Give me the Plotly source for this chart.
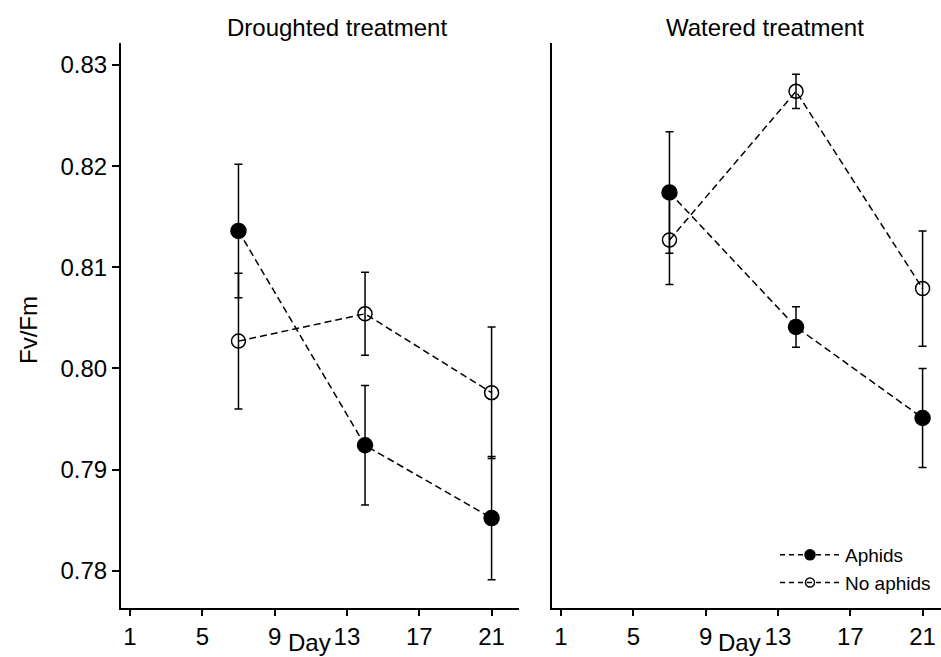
import plotly.graph_objects as go

# Fv/Fm by day, mean and error, for each treatment and aphid group
days = [7, 14, 21]

drought_aphids = [0.8136, 0.7924, 0.7852]
drought_aphids_err = [0.0066, 0.0059, 0.0061]
drought_none = [0.8027, 0.8054, 0.7976]
drought_none_err = [0.0067, 0.0041, 0.0065]

water_aphids = [0.8174, 0.8041, 0.7951]
water_aphids_err = [0.0060, 0.0020, 0.0049]
water_none = [0.8127, 0.8274, 0.8079]
water_none_err = [0.0044, 0.0017, 0.0057]

x_ticks = [1, 5, 9, 13, 17, 21]
y_ticks = [0.78, 0.79, 0.80, 0.81, 0.82, 0.83]

panel_titles = ["Droughted treatment", "Watered treatment"]
group_names = ["Aphids", "No aphids"]

FONT = "Liberation Sans, Arial, sans-serif"
W, H = 941, 657
DASH = "7px,4px"


def series(x, y, err, filled, xa, ya):
    return go.Scatter(
        x=x, y=y, mode="lines+markers",
        xaxis=xa, yaxis=ya, showlegend=False,
        line=dict(color="black", width=1.5, dash=DASH),
        marker=dict(
            symbol="circle" if filled else "circle-open",
            size=15 if filled else 14,
            color="black",
            line=dict(color="black", width=1.5),
        ),
        error_y=dict(type="data", array=err, visible=True,
                     color="black", thickness=1.5, width=4),
    )


def legend_entry(name, filled):
    # key-only trace with a smaller symbol for the legend
    return go.Scatter(
        x=[None], y=[None], name=name, mode="lines+markers",
        xaxis="x2", yaxis="y2", showlegend=True,
        line=dict(color="black", width=1.5, dash="5px,4px"),
        marker=dict(
            symbol="circle" if filled else "circle-open",
            size=10 if filled else 9,
            color="black",
            line=dict(color="black", width=1.5),
        ),
    )


fig = go.Figure()
fig.add_trace(series(days, drought_aphids, drought_aphids_err, True, "x", "y"))
fig.add_trace(series(days, drought_none, drought_none_err, False, "x", "y"))
fig.add_trace(series(days, water_aphids, water_aphids_err, True, "x2", "y2"))
fig.add_trace(series(days, water_none, water_none_err, False, "x2", "y2"))
fig.add_trace(legend_entry(group_names[0], True))
fig.add_trace(legend_entry(group_names[1], False))

px_per_day = 18.08
left_x0, left_x1 = 120.7, 519.3
right_x0 = 552.3
y_bottom, y_top = 607.7, 43.3

yrange = [0.77634, 0.83215]
y_dom = [(H - y_bottom) / H, (H - y_top) / H]

axis_common = dict(
    showline=True, linecolor="black", linewidth=1.5,
    showgrid=False, zeroline=False,
    tickfont=dict(family=FONT, size=24, color="black"),
)

fig.update_layout(
    width=W, height=H,
    margin=dict(l=0, r=0, t=0, b=0),
    paper_bgcolor="white", plot_bgcolor="white",
    font=dict(family=FONT, color="black"),
    xaxis=dict(
        domain=[left_x0 / W, left_x1 / W], anchor="y",
        range=[0.486, 0.486 + (left_x1 - left_x0) / px_per_day],
        tickvals=x_ticks, ticks="outside", ticklen=7, tickwidth=1.5, tickcolor="black",
        **axis_common,
    ),
    yaxis=dict(
        domain=y_dom, anchor="x", range=yrange,
        tickvals=y_ticks, tickformat=".2f",
        ticks="outside", ticklen=7, tickwidth=1.5, tickcolor="black",
        **axis_common,
    ),
    xaxis2=dict(
        domain=[right_x0 / W, 1.0], anchor="y2",
        range=[0.52, 0.52 + (W - right_x0) / px_per_day],
        tickvals=x_ticks, ticks="outside", ticklen=7, tickwidth=1.5, tickcolor="black",
        **axis_common,
    ),
    yaxis2=dict(
        domain=y_dom, anchor="x2", range=yrange,
        tickvals=y_ticks, showticklabels=False, ticks="",
        **axis_common,
    ),
    legend=dict(
        x=775 / W, y=(H - 536) / H, xanchor="left", yanchor="top",
        bgcolor="rgba(0,0,0,0)", itemwidth=60,
        font=dict(family=FONT, size=19, color="black"),
        tracegroupgap=0,
    ),
)

# Panel titles
for cx, text in [(337, panel_titles[0]), (765, panel_titles[1])]:
    fig.add_annotation(
        x=cx / W, y=(H - 27) / H, xref="paper", yref="paper",
        text=text, showarrow=False, xanchor="center", yanchor="middle",
        font=dict(family=FONT, size=24, color="black"),
    )

# Axis titles, sitting on the bottom edge
for cx in [309, 739]:
    fig.add_annotation(
        x=cx / W, y=0, xref="paper", yref="paper",
        text="Day", showarrow=False, xanchor="center", yanchor="bottom",
        borderpad=0,
        font=dict(family=FONT, size=24, color="black"),
    )
fig.add_annotation(
    x=28 / W, y=(H - 330) / H, xref="paper", yref="paper",
    text="Fv/Fm", textangle=-90, showarrow=False,
    xanchor="center", yanchor="middle",
    font=dict(family=FONT, size=24, color="black"),
)

fig.write_html("out.html")
